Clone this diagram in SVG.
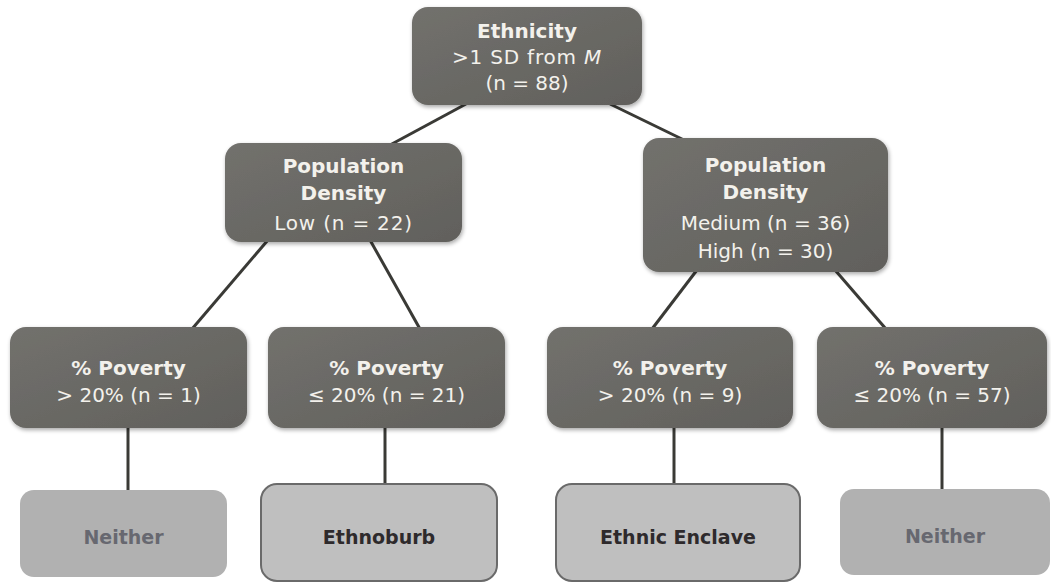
<svg xmlns="http://www.w3.org/2000/svg" width="1051" height="583" viewBox="0 0 1051 583">
<defs>
<linearGradient id="dg" x1="0" y1="0" x2="1" y2="1">
<stop offset="0" stop-color="#72716d"/>
<stop offset="1" stop-color="#61605c"/>
</linearGradient>
<filter id="sh" x="-10%" y="-10%" width="125%" height="130%">
<feGaussianBlur in="SourceAlpha" stdDeviation="2"/>
<feOffset dx="1" dy="2" result="b"/>
<feComponentTransfer><feFuncA type="linear" slope="0.35"/></feComponentTransfer>
<feMerge><feMergeNode/><feMergeNode in="SourceGraphic"/></feMerge>
</filter>
</defs>
<style>
.dk{fill:url(#dg);filter:url(#sh)}
.t{font-family:"DejaVu Sans",Verdana,sans-serif;font-size:20px;fill:#f3f1ec;text-anchor:middle}
.b{font-weight:bold}
.ln{stroke:#3a3a36;stroke-width:3;fill:none}
.nb{fill:#b1b1b1}
.eb{fill:#bfbfbf;stroke:#6a6a6a;stroke-width:2}
.lt{font-family:"DejaVu Sans",Verdana,sans-serif;font-size:19px;font-weight:bold;text-anchor:middle}
</style>
<rect width="1051" height="583" fill="#ffffff"/>
<g id="connectors">
<line class="ln" x1="466" y1="104" x2="390" y2="145"/>
<line class="ln" x1="610" y1="104" x2="684" y2="140"/>
<line class="ln" x1="268" y1="240" x2="192" y2="329"/>
<line class="ln" x1="370" y1="240" x2="420" y2="329"/>
<line class="ln" x1="697" y1="270" x2="652" y2="329"/>
<line class="ln" x1="835" y1="270" x2="886" y2="329"/>
<line class="ln" x1="128" y1="427" x2="128" y2="491"/>
<line class="ln" x1="385" y1="427" x2="385" y2="484"/>
<line class="ln" x1="674" y1="427" x2="674" y2="484"/>
<line class="ln" x1="942" y1="427" x2="942" y2="490"/>
</g>
<g id="root">
<rect class="dk" x="412" y="7" width="230" height="98" rx="16"/>
<text class="t b" x="527" y="38">Ethnicity</text>
<text class="t" x="527" y="64" letter-spacing="0.8">&gt;1 SD from <tspan font-style="italic">M</tspan></text>
<text class="t" x="527" y="90">(n = 88)</text>
</g>
<g id="popLow">
<rect class="dk" x="225" y="143" width="237" height="99" rx="16"/>
<text class="t b" x="343.5" y="173">Population</text>
<text class="t b" x="343.5" y="200">Density</text>
<text class="t" x="343.5" y="230" letter-spacing="0.8">Low (n = 22)</text>
</g>
<g id="popHigh">
<rect class="dk" x="643" y="138" width="245" height="134" rx="16"/>
<text class="t b" x="765.5" y="172">Population</text>
<text class="t b" x="765.5" y="199">Density</text>
<text class="t" x="765.5" y="230">Medium (n = 36)</text>
<text class="t" x="765.5" y="258">High (n = 30)</text>
</g>
<g id="pov1">
<rect class="dk" x="10" y="327" width="237" height="101" rx="16"/>
<text class="t b" x="128.5" y="375">% Poverty</text>
<text class="t" x="128.5" y="402" font-size="19">&gt; 20% (n = 1)</text>
</g>
<g id="pov2">
<rect class="dk" x="268" y="327" width="237" height="101" rx="16"/>
<text class="t b" x="386.5" y="375">% Poverty</text>
<text class="t" x="386.5" y="402" font-size="19">≤ 20% (n = 21)</text>
</g>
<g id="pov3">
<rect class="dk" x="547" y="327" width="246" height="101" rx="16"/>
<text class="t b" x="670" y="375">% Poverty</text>
<text class="t" x="670" y="402" font-size="19">&gt; 20% (n = 9)</text>
</g>
<g id="pov4">
<rect class="dk" x="817" y="327" width="230" height="101" rx="16"/>
<text class="t b" x="932" y="375">% Poverty</text>
<text class="t" x="932" y="402" font-size="19">≤ 20% (n = 57)</text>
</g>
<g id="neither1">
<rect class="nb" x="20" y="490" width="207" height="87" rx="14"/>
<text class="lt" x="123.5" y="544" fill="#676870">Neither</text>
</g>
<g id="ethnoburb">
<rect class="eb" x="261" y="484" width="236" height="97" rx="16"/>
<text class="lt" x="379" y="544" fill="#2e2a2c">Ethnoburb</text>
</g>
<g id="enclave">
<rect class="eb" x="556" y="484" width="244" height="97" rx="16"/>
<text class="lt" x="678" y="544" fill="#2e2a2c">Ethnic Enclave</text>
</g>
<g id="neither2">
<rect class="nb" x="840" y="489" width="210" height="86" rx="14"/>
<text class="lt" x="945" y="543" fill="#676870">Neither</text>
</g>
</svg>
